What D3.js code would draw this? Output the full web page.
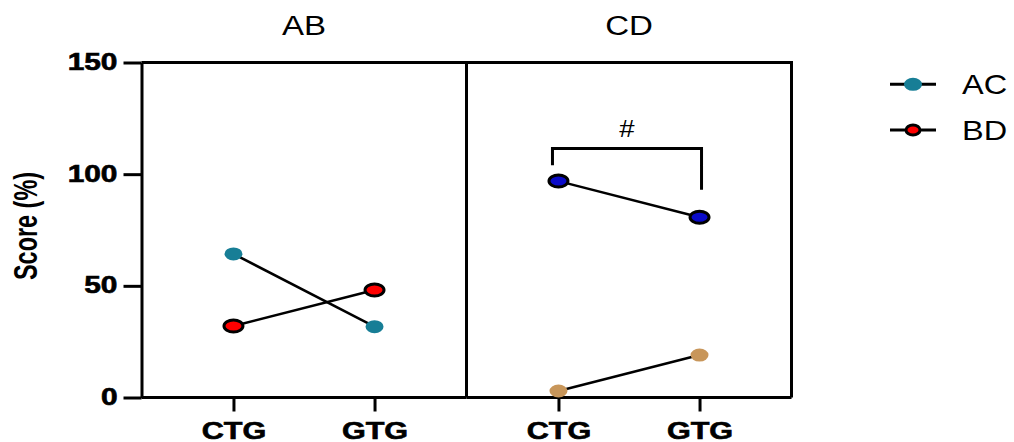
<!DOCTYPE html>
<html>
<head>
<meta charset="utf-8">
<script src="https://cdn.jsdelivr.net/npm/d3@7"></script>
<style>
  body { margin: 0; background: #fff; }
  text { font-family: "Liberation Sans", Arial, sans-serif; fill: #000; }
</style>
</head>
<body>
<div id="chart"></div>
<script>
// chart data
var panelNames = ["AB", "CD"];
var groups = ["CTG", "GTG"];
var yTicks = [0, 50, 100, 150];
var legendNames = ["AC", "BD"];

// panel AB
var abAC = [64.3, 31.7];
var abBD = [32, 48.1];
// panel CD
var cdUpper = [96.9, 80.7];
var cdLower = [2.9, 19];

// significance bracket in panel CD (score units)
var bracketTop = 111.5;
var bracketLeftEnd = 104;
var bracketRightEnd = 93;
var bracketLabel = "#";

// dimensions
var svgWidth = 1014;
var svgHeight = 442;
var chartMargin = { top: 62.5, left: 141.5 };
var panelWidth = 325;
var chartHeight = 335;

var svg = d3.select("#chart")
  .append("svg")
  .attr("width", svgWidth)
  .attr("height", svgHeight);

var chartGroup = svg.append("g")
  .attr("transform", `translate(${chartMargin.left}, ${chartMargin.top})`);

var yScale = d3.scaleLinear()
  .domain([0, 150])
  .range([chartHeight, 0]);

var panelScale = d3.scaleBand()
  .domain(panelNames)
  .range([0, panelWidth * panelNames.length]);

var xScale = d3.scalePoint()
  .domain(groups)
  .range([0, panelWidth])
  .padding(0.652);

// series per panel
var panelSeries = {
  AB: [
    { values: abAC, fill: "#177e96", outlined: false },
    { values: abBD, fill: "#ff0000", outlined: true }
  ],
  CD: [
    { values: cdUpper, fill: "#0a0ac8", outlined: true },
    { values: cdLower, fill: "#c8965a", outlined: false }
  ]
};

// y axis
var yAxis = chartGroup.append("g")
  .call(d3.axisLeft(yScale).tickValues(yTicks).tickSize(18).tickSizeOuter(0));
yAxis.select(".domain").attr("stroke-width", 3);
yAxis.selectAll(".tick line").attr("stroke-width", 3);
yAxis.selectAll(".tick text")
  .attr("x", null)
  .attr("dy", "0.3em")
  .attr("font-size", 23)
  .attr("font-weight", "bold")
  .attr("font-family", "Liberation Sans, Arial, sans-serif")
  .attr("stroke", "#000")
  .attr("stroke-width", 0.6)
  .attr("transform", "translate(-24, 0) scale(1.3, 1)");

// y label
chartGroup.append("text")
  .attr("transform", `translate(${37 - chartMargin.left}, ${226 - chartMargin.top}) rotate(-90)`)
  .attr("text-anchor", "middle")
  .attr("font-size", 33)
  .attr("font-weight", "bold")
  .attr("textLength", 108)
  .attr("lengthAdjust", "spacingAndGlyphs")
  .text("Score (%)");

panelNames.forEach(function(name) {
  var panel = chartGroup.append("g")
    .attr("transform", `translate(${panelScale(name)}, 0)`);

  // x axis
  var xAxis = panel.append("g")
    .attr("transform", `translate(0, ${chartHeight})`)
    .call(d3.axisBottom(xScale).tickSize(14).tickSizeOuter(0));
  xAxis.select(".domain").attr("d", `M0,0H${panelWidth}`).attr("stroke-width", 3);
  xAxis.selectAll(".tick line").attr("stroke-width", 3);
  xAxis.selectAll(".tick text")
    .attr("y", null)
    .attr("dy", null)
    .attr("font-size", 23)
    .attr("font-weight", "bold")
    .attr("font-family", "Liberation Sans, Arial, sans-serif")
    .attr("stroke", "#000")
    .attr("stroke-width", 0.6)
    .attr("transform", "translate(0, 41.5) scale(1.33, 1)");

  // frame: top and right edges
  panel.append("path")
    .attr("d", `M0,0H${panelWidth}V${chartHeight}`)
    .attr("fill", "none")
    .attr("stroke", "#000")
    .attr("stroke-width", 3);

  // title
  panel.append("text")
    .attr("transform", `translate(${panelWidth / 2}, ${35 - chartMargin.top}) scale(1.18, 1)`)
    .attr("text-anchor", "middle")
    .attr("font-size", 28)
    .text(name);

  var line = d3.line()
    .x((d, i) => xScale(groups[i]))
    .y(d => yScale(d));

  panelSeries[name].forEach(function(s) {
    panel.append("path")
      .datum(s.values)
      .attr("d", line)
      .attr("fill", "none")
      .attr("stroke", "#000")
      .attr("stroke-width", 2.5);
  });

  panelSeries[name].forEach(function(s) {
    panel.selectAll(null)
      .data(s.values)
      .enter()
      .append("ellipse")
      .attr("cx", (d, i) => xScale(groups[i]))
      .attr("cy", d => yScale(d))
      .attr("rx", s.outlined ? 9.5 : 9)
      .attr("ry", s.outlined ? 6 : 6.5)
      .attr("fill", s.fill)
      .attr("stroke", s.outlined ? "#000" : "none")
      .attr("stroke-width", 3);
  });

  if (name === "CD") {
    var x1 = xScale(groups[0]) - 6;
    var x2 = xScale(groups[1]) + 2;
    panel.append("path")
      .attr("d", `M${x1},${yScale(bracketLeftEnd)}V${yScale(bracketTop)}H${x2}V${yScale(bracketRightEnd)}`)
      .attr("fill", "none")
      .attr("stroke", "#000")
      .attr("stroke-width", 3);
    panel.append("text")
      .attr("transform", `translate(${(x1 + x2) / 2}, ${yScale(bracketTop) - 11}) scale(1.2, 1)`)
      .attr("text-anchor", "middle")
      .attr("font-size", 23)
      .text(bracketLabel);
  }
});

// legend
var legendStyles = [
  { fill: "#177e96", outlined: false },
  { fill: "#ff0000", outlined: true }
];
var legend = svg.append("g");
legendNames.forEach(function(n, i) {
  var y = 84.3 + i * 45.7;
  var g = legend.append("g").attr("transform", `translate(0, ${y})`);
  g.append("line")
    .attr("x1", 890).attr("x2", 936)
    .attr("stroke", "#000")
    .attr("stroke-width", 3);
  g.append("ellipse")
    .attr("cx", 913)
    .attr("rx", legendStyles[i].outlined ? 7 : 9)
    .attr("ry", legendStyles[i].outlined ? 5 : 6.5)
    .attr("fill", legendStyles[i].fill)
    .attr("stroke", legendStyles[i].outlined ? "#000" : "none")
    .attr("stroke-width", 3);
  g.append("text")
    .attr("transform", "translate(962, 10) scale(1.16, 1)")
    .attr("font-size", 28)
    .text(n);
});
</script>
</body>
</html>
